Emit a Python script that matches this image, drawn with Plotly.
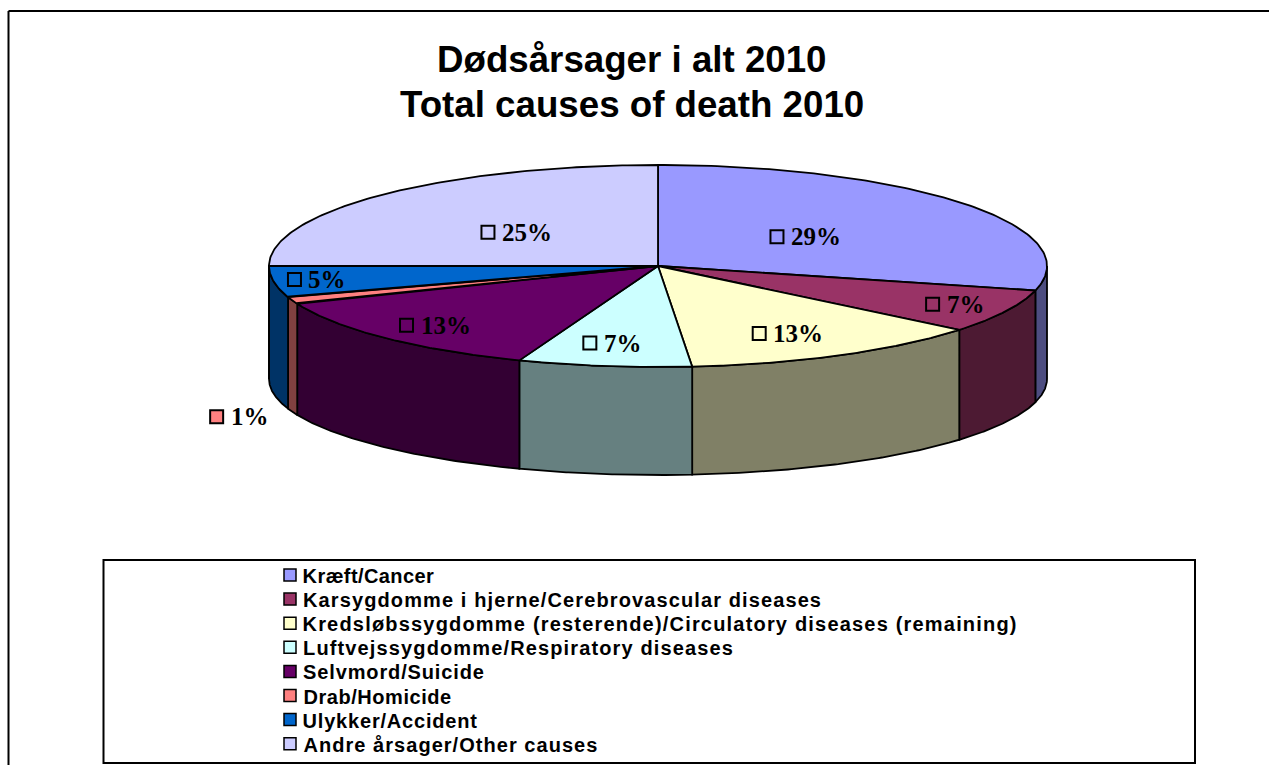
import json
import numpy as np
import plotly.graph_objects as go

# ---- data ----
categories = [
    "Kræft/Cancer",
    "Karsygdomme i hjerne/Cerebrovascular diseases",
    "Kredsløbssygdomme (resterende)/Circulatory diseases (remaining)",
    "Luftvejssygdomme/Respiratory diseases",
    "Selvmord/Suicide",
    "Drab/Homicide",
    "Ulykker/Accident",
    "Andre årsager/Other causes",
]
values = [28.9, 7.0, 12.7, 7.2, 13.1, 1.1, 5.0, 25.0]
title_lines = ["Dødsårsager i alt 2010", "Total causes of death 2010"]

# ---- styles ----
top_colors = ["#9999FF", "#993366", "#FFFFCC", "#CCFFFF", "#660066", "#FF8080", "#0066CC", "#CCCCFF"]
side_colors = ["#4D4D80", "#4D1A33", "#808066", "#668080", "#330033", "#804040", "#003366", "#666680"]
label_shift = [(-65, 8), (66, 11), (-8, 14), (-36, 17), (-88, 16), (-222, 130), (-133, 4), (-5, 9)]
legend_tracking = [0.4, 1.11, 1.19, 1.13, 0.87, 0.55, 0.8, 1.04]

W, H = 1269, 765
CX, CY, RX, RY = 658, 266, 389, 101
BOTTOM_CY, BOTTOM_RY = 379, 96
SANS = "Liberation Sans"
SERIF = "Liberation Serif"
LEGEND_FONT = 20


def top_pt(theta, r=1.0):
    return CX + RX * r * np.sin(theta), CY - RY * r * np.cos(theta)


def bottom_pt(theta):
    return CX + RX * np.sin(theta), BOTTOM_CY - BOTTOM_RY * np.cos(theta)


edges = np.radians(np.concatenate([[0], np.cumsum(values)]) / sum(values) * 360)
fig = go.Figure()

# side walls (only the front half of the rim is visible)
for i in range(len(values)):
    a, b = max(edges[i], np.pi / 2), min(edges[i + 1], 3 * np.pi / 2)
    if b <= a:
        continue
    t = np.linspace(a, b, 80)
    tx, ty = top_pt(t)
    bx, by = bottom_pt(t[::-1])
    fig.add_trace(go.Scatter(
        x=np.r_[tx, bx, tx[0]], y=np.r_[ty, by, ty[0]], mode="lines", fill="toself",
        fillcolor=side_colors[i], line=dict(color="black", width=1.8),
        hoverinfo="skip", showlegend=False))

# top faces
for i in range(len(values)):
    t = np.linspace(edges[i], edges[i + 1], 120)
    tx, ty = top_pt(t)
    fig.add_trace(go.Scatter(
        x=np.r_[CX, tx, CX], y=np.r_[CY, ty, CY], mode="lines", fill="toself",
        fillcolor=top_colors[i], line=dict(color="black", width=1.8),
        name=categories[i], hoverinfo="name", showlegend=False))

annotations = []

# data labels: key square + percentage
for i, v in enumerate(values):
    mid = (edges[i] + edges[i + 1]) / 2
    mx, my = top_pt(mid, 0.6)
    lx, ly = mx + label_shift[i][0], my + label_shift[i][1]
    fig.add_trace(go.Scatter(
        x=[lx], y=[ly], mode="markers",
        marker=dict(symbol="square", size=13, color=top_colors[i], line=dict(color="black", width=2)),
        hoverinfo="skip", showlegend=False))
    annotations.append(dict(
        x=lx, y=ly, xref="x", yref="y", xanchor="left", yanchor="middle", xshift=12,
        text=f"{round(v)}%", showarrow=False,
        font=dict(family=SERIF, size=25, color="black", weight=700)))

# legend rows
LEG_X, LEG_Y, LEG_STEP = 290, 575, 24.1
for i, c in enumerate(categories):
    y = LEG_Y + LEG_STEP * i
    fig.add_trace(go.Scatter(
        x=[LEG_X], y=[y], mode="markers",
        marker=dict(symbol="square", size=12, color=top_colors[i], line=dict(color="black", width=1.5)),
        hoverinfo="skip", showlegend=False))
    annotations.append(dict(
        x=LEG_X, y=y, xref="x", yref="y", xanchor="left", yanchor="middle",
        xshift=11 + len(c) * legend_tracking[i] / 2, yshift=-1,
        text=c, showarrow=False,
        font=dict(family=SANS, size=LEGEND_FONT, color="black", weight=700)))

# title
for line, y in zip(title_lines, [59, 104]):
    annotations.append(dict(
        x=632, y=y, xref="x", yref="y", xanchor="center", yanchor="middle",
        text=line, showarrow=False,
        font=dict(family=SANS, size=36.7, color="black", weight=700)))

frame = dict(color="black", width=2)
shapes = [
    dict(type="line", xref="x", yref="y", x0=8.5, y0=H, x1=8.5, y1=11, line=frame),
    dict(type="line", xref="x", yref="y", x0=8.5, y0=11, x1=W, y1=11, line=frame),
    dict(type="rect", xref="x", yref="y", x0=103.5, y0=560, x1=1195, y1=763, line=frame, fillcolor="white", layer="below"),
]

fig.update_layout(
    width=W, height=H, margin=dict(l=0, r=0, t=0, b=0, pad=0),
    paper_bgcolor="white", plot_bgcolor="white", showlegend=False,
    xaxis=dict(range=[0, W], visible=False, fixedrange=True),
    yaxis=dict(range=[H, 0], visible=False, fixedrange=True),
    annotations=annotations, shapes=shapes,
)

tracking_map = json.dumps(dict(zip(categories, legend_tracking)), ensure_ascii=False)
post = (
    "document.body.style.margin='0';document.body.style.overflow='hidden';"
    "var tm=" + tracking_map + ";"
    "document.querySelectorAll('.annotation-text').forEach(function(e){"
    "var v=tm[e.textContent];if(v!==undefined){e.style.letterSpacing=v+'px';}});"
)
fig.write_html("out.html", post_script=post, config={"displayModeBar": False})
